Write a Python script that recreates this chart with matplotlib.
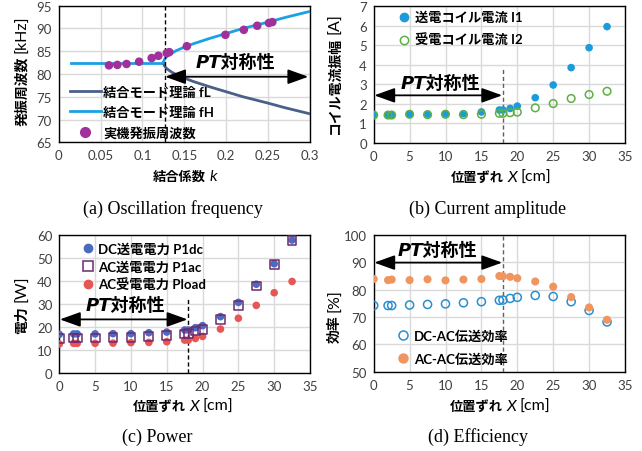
import matplotlib
matplotlib.use("Agg")
import matplotlib.pyplot as plt
from matplotlib.transforms import IdentityTransform
from matplotlib.lines import Line2D

plt.rcParams['font.family'] = ['Lato', 'Noto Sans CJK JP', 'DejaVu Sans']

# ---------------- data ----------------
# (a) oscillation frequency vs coupling k
k_flat = [0.015, 0.125]
f_flat = [82.5, 82.5]
k_theory = [0.125, 0.126, 0.128, 0.13, 0.135, 0.14, 0.15, 0.16, 0.18, 0.2, 0.22, 0.25, 0.27, 0.3]
fH_theory = [82.5, 83.15, 83.64, 83.97, 84.6, 85.1, 85.9, 86.6, 87.8, 88.9, 90.0, 91.4, 92.4, 93.75]
fL_theory = [82.5, 81.85, 81.36, 81.03, 80.4, 79.9, 79.1, 78.4, 77.2, 76.1, 75.0, 73.6, 72.6, 71.25]
k_meas = [0.060, 0.070, 0.081, 0.096, 0.111, 0.119, 0.129, 0.132, 0.153, 0.199, 0.221, 0.237, 0.251, 0.255]
f_meas = [81.9, 82.0, 82.2, 82.7, 83.5, 84.0, 84.6, 84.8, 86.1, 88.6, 89.7, 90.6, 91.2, 91.4]

# (b)-(d) versus misalignment X [cm]
x_cm = [0, 2, 2.5, 5, 7.5, 10, 12.5, 15, 17.5, 18, 19, 20, 22.5, 25, 27.5, 30, 32.5]
I1 = [1.43, 1.45, 1.45, 1.48, 1.48, 1.50, 1.50, 1.59, 1.69, 1.69, 1.77, 1.89, 2.32, 2.97, 3.86, 4.88, 5.96]
I2 = [1.43, 1.43, 1.43, 1.47, 1.45, 1.47, 1.45, 1.47, 1.52, 1.52, 1.55, 1.58, 1.80, 2.02, 2.28, 2.48, 2.65]
P1dc = [16.8, 17.0, 17.0, 17.0, 17.1, 17.1, 17.5, 17.8, 18.7, 18.7, 19.7, 20.6, 24.5, 30.7, 38.6, 47.5, 57.8]
P1ac = [14.9, 15.2, 15.2, 15.2, 15.4, 15.5, 15.8, 16.2, 17.0, 17.1, 18.3, 18.8, 23.1, 29.4, 37.8, 47.2, 57.5]
Pload = [12.6, 12.9, 12.9, 12.9, 13.0, 13.2, 13.3, 13.6, 14.3, 14.3, 15.0, 15.9, 19.1, 23.8, 29.4, 34.9, 39.8]
eta_dcac = [74.2, 74.2, 74.2, 74.4, 74.6, 74.8, 75.2, 75.6, 76.1, 76.2, 76.8, 77.2, 77.9, 77.5, 75.6, 72.4, 68.2]
eta_acac = [83.9, 83.5, 83.7, 83.5, 83.8, 83.4, 83.7, 83.9, 85.0, 84.9, 84.7, 84.2, 83.0, 81.1, 77.3, 73.5, 69.0]

xticks_a = [0, 0.05, 0.1, 0.15, 0.2, 0.25, 0.3]
xticklabels_a = ['0', '0.05', '0.1', '0.15', '0.2', '0.25', '0.3']
xticks_cm = [0, 5, 10, 15, 20, 25, 30, 35]

# ---------------- figure ----------------
W, H = 642, 452
fig = plt.figure(figsize=(W / 100, H / 100), dpi=100)


def add_ax(left, top, right, bottom):
    return fig.add_axes([left / W, 1 - bottom / H, (right - left) / W, (bottom - top) / H])


axA = add_ax(58.7, 6.7, 310, 143.3)
axB = add_ax(373.7, 7.3, 625, 144)
axC = add_ax(59.3, 236, 310, 374)
axD = add_ax(373.7, 236, 625, 372.7)

GRID = '#D9D9D9'
TICKC = '#404040'
for ax in (axA, axB, axC, axD):
    ax.grid(True, color=GRID, lw=1.0, zorder=0)
    ax.set_axisbelow(True)
    for s in ax.spines.values():
        s.set_color('black')
        s.set_linewidth(1.0)
    ax.tick_params(length=0, pad=5, labelsize=9.5, colors=TICKC)

JP = ['Noto Sans CJK JP', 'DejaVu Sans']
legfont = dict(family=['Lato', 'Noto Sans CJK JP'], weight='bold', size=9.5)

# (a)
axA.plot(k_flat, f_flat, color='#1BA1E2', lw=2, zorder=3)
axA.plot(k_theory, fL_theory, color='#4A5F8A', lw=2, zorder=3)
axA.plot(k_theory, fH_theory, color='#1BA1E2', lw=2, zorder=3)
axA.scatter(k_meas, f_meas, s=38, color='#A0309A', zorder=4, edgecolors='none')
axA.set_xlim(0, 0.3)
axA.set_ylim(65, 95)
axA.set_xticks(xticks_a)
axA.set_xticklabels(xticklabels_a)
axA.set_yticks([65, 70, 75, 80, 85, 90, 95])
axA.axvline(0.127, color='black', lw=1, ls=(0, (3, 2)), zorder=3)
hA = [Line2D([], [], color='#4A5F8A', lw=2),
      Line2D([], [], color='#1BA1E2', lw=2),
      Line2D([], [], color='#A0309A', marker='o', ls='none', markersize=7)]
axA.legend(hA, ['結合モード理論 fL', '結合モード理論 fH', '実機発振周波数'],
           loc='upper left', bbox_to_anchor=(0.02, 0.46), frameon=False, borderpad=0,
           handlelength=2.3, handletextpad=0.2, labelspacing=0.6, prop=legfont)

# (b)
axB.scatter(x_cm, I1, s=30, color='#1B9BD8', zorder=4, edgecolors='none')
axB.scatter(x_cm, I2, s=30, facecolors='none', edgecolors='#5DB043', linewidths=1.1, zorder=4)
axB.set_xlim(0, 35)
axB.set_ylim(0, 7)
axB.set_xticks(xticks_cm)
axB.set_yticks(range(0, 8))
axB.plot([18, 18], [0, 3.9], color='#606060', lw=1, ls=(0, (3, 2)), zorder=3)
hB = [Line2D([], [], color='#1B9BD8', marker='o', ls='none', markersize=6),
      Line2D([], [], markerfacecolor='none', markeredgecolor='#5DB043', marker='o', ls='none',
             markersize=6, markeredgewidth=1.1)]
axB.legend(hB, ['送電コイル電流 I1', '受電コイル電流 I2'],
           loc='upper left', bbox_to_anchor=(0.07, 1.015), frameon=False, borderpad=0,
           handlelength=1.0, handletextpad=0.3, labelspacing=0.75, prop=legfont)

# (c)
axC.scatter(x_cm, P1dc, s=30, color='#4A6BC0', zorder=4, edgecolors='none')
axC.scatter(x_cm, P1ac, s=40, marker='s', facecolors='none', edgecolors='#6A2A70', linewidths=1.1, zorder=5)
axC.scatter(x_cm, Pload, s=30, color='#E85555', zorder=4, edgecolors='none')
axC.set_xlim(0, 35)
axC.set_ylim(0, 60)
axC.set_xticks(xticks_cm)
axC.set_yticks(range(0, 61, 10))
axC.plot([18, 18], [0, 32.7], color='black', lw=1, ls=(0, (3, 2)), zorder=3)
hC = [Line2D([], [], color='#4A6BC0', marker='o', ls='none', markersize=6),
      Line2D([], [], markerfacecolor='none', markeredgecolor='#6A2A70', marker='s', ls='none',
             markersize=6.5, markeredgewidth=1.1),
      Line2D([], [], color='#E85555', marker='o', ls='none', markersize=6)]
axC.legend(hC, ['DC送電電力 P1dc', 'AC送電電力 P1ac', 'AC受電電力 Pload'],
           loc='upper left', bbox_to_anchor=(0.06, 0.995), frameon=False, borderpad=0,
           handlelength=1.0, handletextpad=0.3, labelspacing=0.38, prop=legfont)

# (d)
axD.scatter(x_cm, eta_dcac, s=34, facecolors='none', edgecolors='#2A8FCF', linewidths=1.1, zorder=4)
axD.scatter(x_cm, eta_acac, s=34, color='#F0955E', zorder=4, edgecolors='none')
axD.set_xlim(0, 35)
axD.set_ylim(50, 100)
axD.set_xticks(xticks_cm)
axD.set_yticks(range(50, 101, 10))
axD.axvline(18, color='#606060', lw=1, ls=(0, (3, 2)), zorder=3)
hD = [Line2D([], [], markerfacecolor='none', markeredgecolor='#2A8FCF', marker='o', ls='none',
             markersize=6.5, markeredgewidth=1.1),
      Line2D([], [], color='#F0955E', marker='o', ls='none', markersize=6.5)]
axD.legend(hD, ['DC-AC伝送効率', 'AC-AC伝送効率'],
           loc='upper left', bbox_to_anchor=(0.065, 0.36), frameon=False, borderpad=0,
           handlelength=1.0, handletextpad=0.3, labelspacing=0.8, prop=legfont)

# PT symmetry annotations
arrow_kw = dict(arrowstyle='<|-|>,head_length=1.25,head_width=0.45', color='black', lw=1.3,
                shrinkA=0, shrinkB=0, mutation_scale=10)
pt_text = dict(fontsize=13, fontweight='bold', style='italic', ha='center', va='center',
               family=['DejaVu Sans', 'Noto Sans CJK JP'])
for ax, x0, x1, ya, xt, yt in [(axA, 0.127, 0.298, 79.4, 0.2105, 82.6),
                               (axB, 0.08, 17.9, 2.44, 9.25, 3.06),
                               (axC, 0.08, 17.9, 23.3, 9.2, 29.6),
                               (axD, 0.08, 17.9, 89.9, 8.9, 94.5)]:
    ax.annotate('', xy=(x1, ya), xytext=(x0, ya), arrowprops=arrow_kw, zorder=6)
    ax.text(xt, yt, 'PT対称性', zorder=6, **pt_text)

# ---------------- multi-style labels ----------------
fig.canvas.draw()
renderer = fig.canvas.get_renderer()


def piece_label(cx, cy, pieces, rotation=0, size=9.5):
    texts = []
    em = size * 1.389
    for s, kw in pieces:
        if s == ' ':
            texts.append(None)
            continue
        kw = dict(kw)
        fs = kw.pop('size', size)
        t = fig.text(0, 0, s, transform=IdentityTransform(), rotation=rotation,
                     rotation_mode='anchor', ha='left', va='baseline', fontsize=fs, **kw)
        texts.append(t)
    gap = em * 0.28
    lens = []
    for t in texts:
        if t is None:
            lens.append(gap)
        else:
            bb = t.get_window_extent(renderer)
            lens.append(bb.width if rotation == 0 else bb.height)
    total = sum(lens)
    if rotation == 0:
        x = cx - total / 2
        yb = (H - cy) - 0.36 * em
        for t, L in zip(texts, lens):
            if t is not None:
                t.set_position((x, yb))
            x += L
    else:
        y = (H - cy) - total / 2
        xb = cx + 0.36 * em
        for t, L in zip(texts, lens):
            if t is not None:
                t.set_position((xb, y))
            y += L


B = dict(family=JP, weight='bold')
N = dict(family=['Lato', 'DejaVu Sans'], size=11.5)
I = dict(family=['Lato', 'DejaVu Sans'], style='italic', size=11.5)

piece_label(185, 176, [('結合係数', B), (' ', {}), ('k', I)])
piece_label(501, 177, [('位置ずれ', B), (' ', {}), ('X', I), (' ', {}), ('[cm]', N)])
piece_label(183, 406, [('位置ずれ', B), (' ', {}), ('X', I), (' ', {}), ('[cm]', N)])
piece_label(500, 406, [('位置ずれ', B), (' ', {}), ('X', I), (' ', {}), ('[cm]', N)])

piece_label(21, 71, [('発振周波数', B), (' ', {}), ('[kHz]', N)], rotation=90, size=10)
piece_label(334, 74, [('コイル電流振幅', B), (' ', {}), ('[A]', N)], rotation=90, size=10)
piece_label(21, 305, [('電力', B), (' ', {}), ('[W]', N)], rotation=90, size=10)
piece_label(334, 316, [('効率', B), (' ', {}), ('[%]', N)], rotation=90, size=10)

# captions
cap = dict(family=['Liberation Serif', 'DejaVu Serif'], fontsize=13, ha='center', va='center',
           transform=IdentityTransform())
fig.text(173, H - 209, '(a) Oscillation frequency', **cap)
fig.text(488, H - 209, '(b) Current amplitude', **cap)
fig.text(157, H - 437, '(c) Power', **cap)
fig.text(478, H - 437, '(d) Efficiency', **cap)

fig.savefig('out.png', dpi=100)
